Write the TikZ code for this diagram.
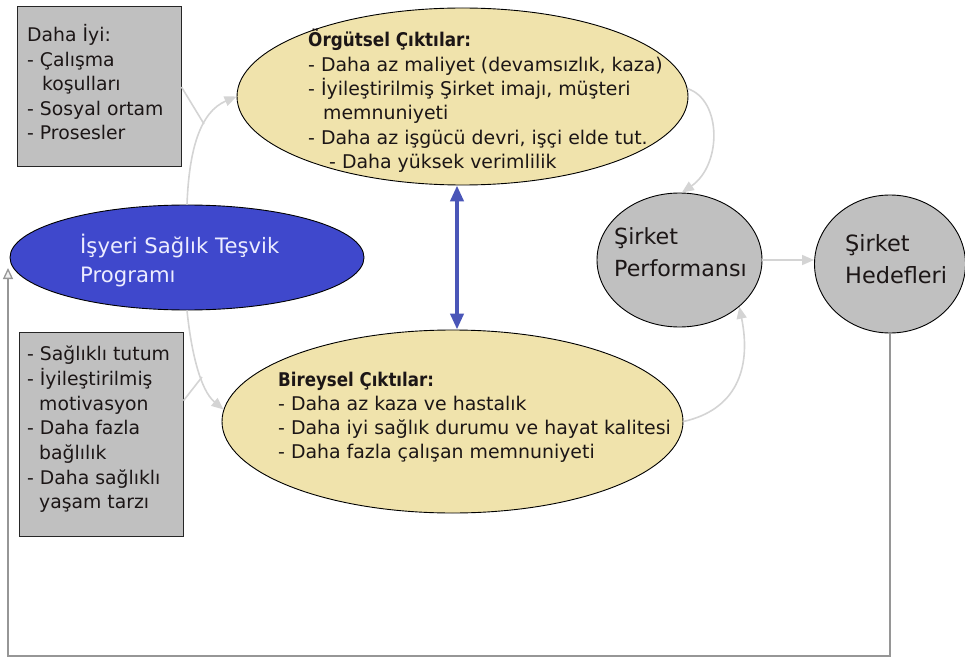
\documentclass[tikz,border=0pt]{standalone}
\usepackage{fontspec}
\usepackage{graphicx}
\setmainfont{DejaVu Sans}
\usetikzlibrary{shapes.geometric,arrows.meta}
\definecolor{ylw}{RGB}{240,227,172}
\definecolor{gry}{RGB}{192,192,192}
\definecolor{blu}{RGB}{63,72,204}
\definecolor{dblu}{RGB}{74,86,184}
\definecolor{lnkc}{RGB}{212,212,212}
\definecolor{fbc}{RGB}{150,150,150}
\definecolor{txt}{RGB}{28,22,22}
\begin{document}
\begin{tikzpicture}[x=1pt,y=-1pt,
  oval/.style={ellipse,draw=black,line width=0.9pt,inner sep=0pt},
  boxs/.style={rectangle,draw=black!85,line width=1pt,fill=gry,inner sep=0pt},
  txtblk/.style={anchor=north west,inner sep=0pt,align=left,text=txt,font=\fontsize{18.8}{24.5}\selectfont},
  lnk/.style={draw=lnkc,line width=1.6pt,-{Triangle[length=12pt,width=10pt]}},
  lnkplain/.style={draw=lnkc,line width=1.6pt},
  fb/.style={draw=fbc,line width=1.3pt,-{Triangle[length=11pt,width=10pt,fill=gray!12]}}
]
\useasboundingbox (0,0) rectangle (965,660);

% shapes
\node[boxs,minimum width=164pt,minimum height=160pt] (daha) at (99,87) {};
\node[boxs,minimum width=164pt,minimum height=204pt] (saglik) at (101,434) {};
\node[oval,fill=ylw,minimum width=451pt,minimum height=177pt] (org) at (462.5,96.5) {};
\node[oval,fill=ylw,minimum width=461pt,minimum height=183pt] (bir) at (452.5,421.5) {};
\node[oval,fill=blu,minimum width=354pt,minimum height=105pt] (prog) at (187,257.5) {};
\node[oval,fill=gry,minimum width=165pt,minimum height=134pt] (perf) at (679.5,260) {};
\node[oval,fill=gry,minimum width=151pt,minimum height=138pt] (hedef) at (890,264) {};

% texts
\node[txtblk] (dahatxt) at (27,23.5) {\rule{0pt}{18pt}Daha İyi:\\- Çalışma\\\hspace*{15pt}koşulları\\- Sosyal ortam\\- Prosesler};
\node[txtblk,font=\fontsize{18.8}{24.67}\selectfont] (sagliktxt) at (27,342.5) {\rule{0pt}{18pt}- Sağlıklı tutum\\- İyileştirilmiş\\\hspace*{12pt}motivasyon\\- Daha fazla\\\hspace*{12pt}bağlılık\\- Daha sağlıklı\\\hspace*{12pt}yaşam tarzı};
\node[txtblk,font=\fontsize{18.9}{24.4}\selectfont] (orgtxt) at (308,28.5) {\rule{0pt}{18pt}\scalebox{0.89}[1]{\textbf{Örgütsel Çıktılar:}}\\- Daha az maliyet (devamsızlık, kaza)\\- İyileştirilmiş Şirket imajı, müşteri\\\hspace*{15pt}memnuniyeti\\- Daha az işgücü devri, işçi elde tut.\\\hspace*{21pt}- Daha yüksek verimlilik};
\node[txtblk,font=\fontsize{18.9}{24}\selectfont] (birtxt) at (278,368.5) {\rule{0pt}{18pt}\scalebox{0.88}[1]{\textbf{Bireysel Çıktılar:}}\\- Daha az kaza ve hastalık\\- Daha iyi sağlık durumu ve hayat kalitesi\\- Daha fazla çalışan memnuniyeti};
\node[txtblk,text={rgb,255:red,236;green,236;blue,255},font=\fontsize{21.2}{29}\selectfont] (progtxt) at (80,233.5) {\rule{0pt}{20pt}İşyeri Sağlık Teşvik\\Programı};
\node[txtblk,font=\fontsize{22.2}{32}\selectfont] (perftxt) at (614,223) {\rule{0pt}{21pt}Şirket\\Performansı};
\node[txtblk,font=\fontsize{22.4}{32}\selectfont] (hedeftxt) at (845,230) {\rule{0pt}{21pt}Şirket\\Hedefleri};

% connectors
\coordinate (j1) at (204,124);
\coordinate (j2) at (202,377);
\coordinate (fbbot) at (8,656);
\coordinate (fbin) at (8,268);
\draw[lnk] (prog.north) .. controls (189,150) and (200,112) .. (org.west);
\draw[lnkplain] (daha.east) -- (j1);
\draw[lnk] (prog.south) .. controls (191,350) and (200,390) .. (bir.177);
\draw[lnkplain] (saglik.22) -- (j2);
\draw[lnk] (org.2) .. controls (722,100) and (722,165) .. (perf.88);
\draw[lnk] (bir.east) .. controls (735,410) and (752,370) .. (perf.-38);
\draw[lnk] (perf.east) -- (perf.east -| hedef.west);
\draw[fb] (hedef.south) |- (fbbot) -- (fbin);
\draw[dblu,line width=4pt,{Triangle[length=16pt,width=13pt]}-{Triangle[length=16pt,width=13pt]}] ([xshift=-5.5pt]org.south) -- ([xshift=4.5pt]bir.north);
\end{tikzpicture}
\end{document}
